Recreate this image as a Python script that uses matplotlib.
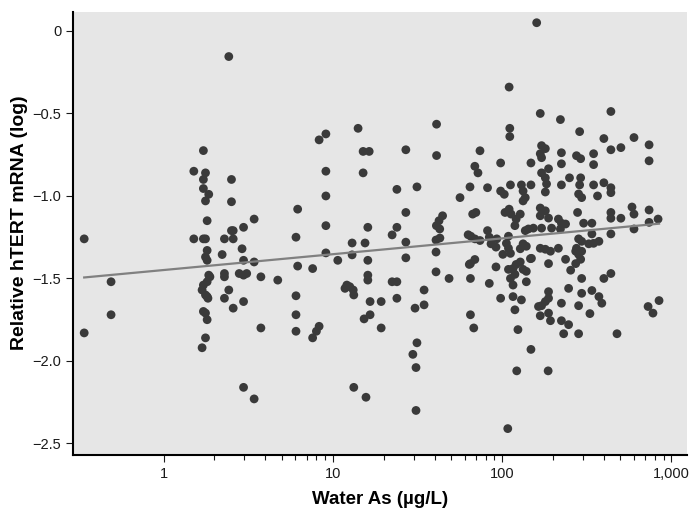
import matplotlib
matplotlib.use('Agg')
import matplotlib.pyplot as plt
import matplotlib.ticker as mticker
import numpy as np

# water arsenic (ug/L) vs relative hTERT mRNA (log)
band_below_1 = [(0.34, -1.26), (0.34, -1.83), (0.49, -1.52), (0.49, -1.72)]

band_1_to_5 = [
    (1.51, -0.85), (1.51, -1.26), (1.72, -0.725), (1.72, -0.90), (1.77, -0.86), (1.72, -0.955),
    (1.85, -0.99), (1.77, -1.03), (1.81, -1.15), (1.72, -1.26), (1.77, -1.26), (1.81, -1.33),
    (1.77, -1.37), (1.81, -1.39), (1.85, -1.48), (1.81, -1.52), (1.72, -1.54), (1.69, -1.57),
    (1.77, -1.60), (1.81, -1.61), (1.72, -1.70), (1.77, -1.71), (1.81, -1.75), (1.77, -1.86),
    (1.69, -1.92), (1.88, -1.49), (1.83, -1.62),
    (2.43, -0.155), (2.52, -0.90), (2.52, -1.035), (2.58, -1.21), (2.52, -1.21), (2.29, -1.26),
    (2.58, -1.26), (2.22, -1.355), (2.29, -1.47), (2.29, -1.49), (2.43, -1.57), (2.29, -1.62),
    (2.58, -1.68),
    (2.97, -1.19), (2.91, -1.32), (2.97, -1.39), (2.80, -1.47), (2.97, -1.48), (3.10, -1.47),
    (2.97, -1.64), (2.97, -2.16), (3.43, -1.14), (3.43, -1.40), (3.43, -2.23), (3.76, -1.49),
    (3.76, -1.80), (4.73, -1.51),
]

band_5_to_40 = [
    (6.2, -1.08), (6.06, -1.25), (6.2, -1.425), (6.06, -1.605), (6.06, -1.72), (6.06, -1.82),
    (7.6, -1.44), (7.6, -1.86), (8.0, -1.82), (8.3, -1.79), (8.3, -0.66), (9.1, -0.624),
    (9.1, -0.85), (9.1, -1.0), (9.1, -1.18), (9.1, -1.345), (10.7, -1.39),
    (14.1, -0.59), (15.1, -0.73), (16.4, -0.73), (15.1, -0.86), (13.0, -1.285), (15.5, -1.285),
    (13.0, -1.357), (16.1, -1.19), (16.1, -1.39), (12.1, -1.54), (12.6, -1.55), (13.2, -1.57),
    (13.3, -1.60), (11.8, -1.56), (16.1, -1.48), (16.1, -1.51), (16.6, -1.64), (15.3, -1.745),
    (16.6, -1.72), (13.3, -2.16), (15.7, -2.22), (19.3, -1.64), (19.3, -1.80),
    (23.9, -0.96), (23.9, -1.19), (22.4, -1.236), (22.4, -1.52), (23.9, -1.52), (23.9, -1.62),
    (27.0, -0.72), (27.0, -1.10), (27.0, -1.28), (27.0, -1.375), (31.4, -0.945), (30.6, -1.68),
    (31.4, -1.89), (29.7, -1.96), (31.0, -2.04), (31.0, -2.30), (34.6, -1.57), (34.6, -1.66),
]

band_40_to_100 = [
    (41, -0.565), (41, -0.755), (40.7, -1.267), (42.9, -1.255), (40.7, -1.34), (40.7, -1.46),
    (48.6, -1.50), (42.4, -1.15), (44.5, -1.12), (40.9, -1.18), (42.8, -1.20),
    (56.4, -1.01), (64.6, -0.945), (69, -0.82), (72, -0.86), (74, -0.726), (67, -1.11),
    (70, -1.10), (63, -1.235), (65.3, -1.244), (69, -1.26), (74, -1.27), (65, -1.41),
    (69, -1.385), (64, -1.415), (65, -1.50), (65, -1.72), (68, -1.80),
    (82, -0.95), (82, -1.21), (84, -1.25), (86, -1.29), (93, -1.26), (92, -1.31), (92, -1.43),
    (84, -1.53), (98, -0.80), (98, -0.97), (103, -0.99), (98, -1.62),
]

band_100_to_150 = [
    (110, -0.34), (111, -0.59), (111, -0.64), (112, -0.933), (130, -0.933), (133, -0.97),
    (137, -1.01), (133, -1.03), (148, -0.933), (148, -0.80), (104, -1.10), (110, -1.08),
    (113, -1.11), (128, -1.11), (121, -1.14),
    (119, -1.18), (137, -1.21), (143, -1.20), (109, -1.244), (106, -1.287), (109, -1.317),
    (112, -1.348), (101, -1.354), (133, -1.29), (139, -1.305), (128, -1.32), (147, -1.38),
    (128, -1.40), (121, -1.415), (116, -1.44), (109, -1.445), (133, -1.445), (139, -1.457),
    (119, -1.475), (112, -1.50), (116, -1.54), (139, -1.52), (116, -1.61), (130, -1.63),
    (119, -1.69), (124, -1.81), (148, -1.93), (122, -2.06), (108, -2.41),
]

band_150_to_500 = [
    (160, 0.05), (168, -0.50), (221, -0.537), (171, -0.695), (180, -0.713), (168, -0.744),
    (171, -0.768), (224, -0.738), (224, -0.805), (275, -0.756), (291, -0.774), (347, -0.744),
    (347, -0.81), (188, -0.835), (171, -0.86), (180, -0.89), (183, -0.927), (180, -0.976),
    (250, -0.89), (224, -0.933), (291, -0.89), (287, -0.933), (283, -0.988), (295, -1.01),
    (347, -0.933), (366, -1.0), (399, -0.92), (439, -0.95), (439, -0.98), (168, -1.073),
    (180, -1.09), (168, -1.12), (188, -1.134), (215, -1.14), (279, -1.10), (439, -1.10),
    (439, -1.135), (503, -1.135), (287, -0.61), (399, -0.652), (439, -0.72), (503, -0.707),
    (439, -0.488),
    (224, -1.165), (153, -1.195), (171, -1.195), (196, -1.195), (221, -1.20), (237, -1.17),
    (303, -1.165), (339, -1.165), (283, -1.26), (275, -1.317), (272, -1.335), (295, -1.275),
    (325, -1.29), (347, -1.287), (373, -1.275), (439, -1.23), (339, -1.23), (168, -1.317),
    (180, -1.323), (193, -1.335), (215, -1.317), (149, -1.378), (188, -1.41), (237, -1.384),
    (254, -1.45), (283, -1.354), (291, -1.384), (272, -1.41), (295, -1.335), (295, -1.50),
    (247, -1.56), (295, -1.59), (339, -1.573), (373, -1.61), (388, -1.65), (439, -1.47),
    (399, -1.50), (188, -1.58), (188, -1.62), (180, -1.64), (171, -1.665), (164, -1.67),
    (168, -1.726), (188, -1.71), (193, -1.756), (224, -1.65), (224, -1.756), (247, -1.78),
    (231, -1.835), (283, -1.665), (283, -1.835), (330, -1.713), (477, -1.835), (187, -2.06),
]

band_above_500 = [
    (601, -0.646), (738, -0.69), (738, -0.787), (585, -1.067), (601, -1.11), (738, -1.085),
    (834, -1.14), (738, -1.16), (601, -1.20), (728, -1.67), (778, -1.71), (845, -1.634),
]

# regression line: y = intercept + slope * log10(x)
fit_slope = 0.096
fit_intercept = -1.449

y_ticks = [0, -0.5, -1.0, -1.5, -2.0, -2.5]
y_tick_labels = ['0', '\u22120.5', '\u22121.0', '\u22121.5', '\u22122.0', '\u22122.5']
x_ticks = [1, 10, 100, 1000]
x_tick_labels = ['1', '10', '100', '1,000']

punten = np.array(band_below_1 + band_1_to_5 + band_5_to_40 + band_40_to_100
                  + band_100_to_150 + band_150_to_500 + band_above_500)
water_as = punten[:, 0]
htert = punten[:, 1]

plt.rcParams['font.family'] = ['Liberation Sans Narrow', 'DejaVu Sans Condensed',
                               'Liberation Sans', 'DejaVu Sans']
plt.rcParams['font.stretch'] = 'condensed'

fig = plt.figure(figsize=(6.97, 5.17), dpi=100)
ax = fig.add_axes([73 / 697, 62 / 517, 614 / 697, 443 / 517])
ax.set_facecolor('#e6e6e6')

ax.scatter(water_as, htert, s=40, c='#3a3a3a', edgecolors='none', zorder=3)

fit_x = np.array([water_as.min(), water_as.max()])
fit_y = fit_intercept + fit_slope * np.log10(fit_x)
ax.plot(fit_x, fit_y, color='#808080', linewidth=1.6, zorder=4)

ax.set_xscale('log')
ax.set_xlim(0.292, 1236)
ax.set_ylim(-2.57, 0.115)

ax.xaxis.set_major_locator(mticker.FixedLocator(x_ticks))
ax.xaxis.set_major_formatter(mticker.FixedFormatter(x_tick_labels))
minor = [m * d for d in (1, 10, 100) for m in range(2, 10)]
ax.xaxis.set_minor_locator(mticker.FixedLocator(minor))
ax.xaxis.set_minor_formatter(mticker.NullFormatter())
ax.set_yticks(y_ticks)
ax.set_yticklabels(y_tick_labels)

for side in ['top', 'right']:
    ax.spines[side].set_visible(False)
for side in ['left', 'bottom']:
    ax.spines[side].set_linewidth(1.5)
    ax.spines[side].set_color('black')

ax.tick_params(axis='both', which='major', direction='out', length=5, width=0.8,
               labelsize=10.5, colors='#1a1a1a')
ax.tick_params(axis='x', which='minor', direction='out', length=3.5, width=0.8, colors='#1a1a1a')

ax.set_xlabel('Water As (\u00b5g/L)', fontsize=13.5, fontweight='bold', labelpad=7)
ax.set_ylabel('Relative hTERT mRNA (log)', fontsize=14, fontweight='bold')
ax.yaxis.set_label_coords(-0.073, 0.525)

fig.savefig('out.png', dpi=100, facecolor='white')
